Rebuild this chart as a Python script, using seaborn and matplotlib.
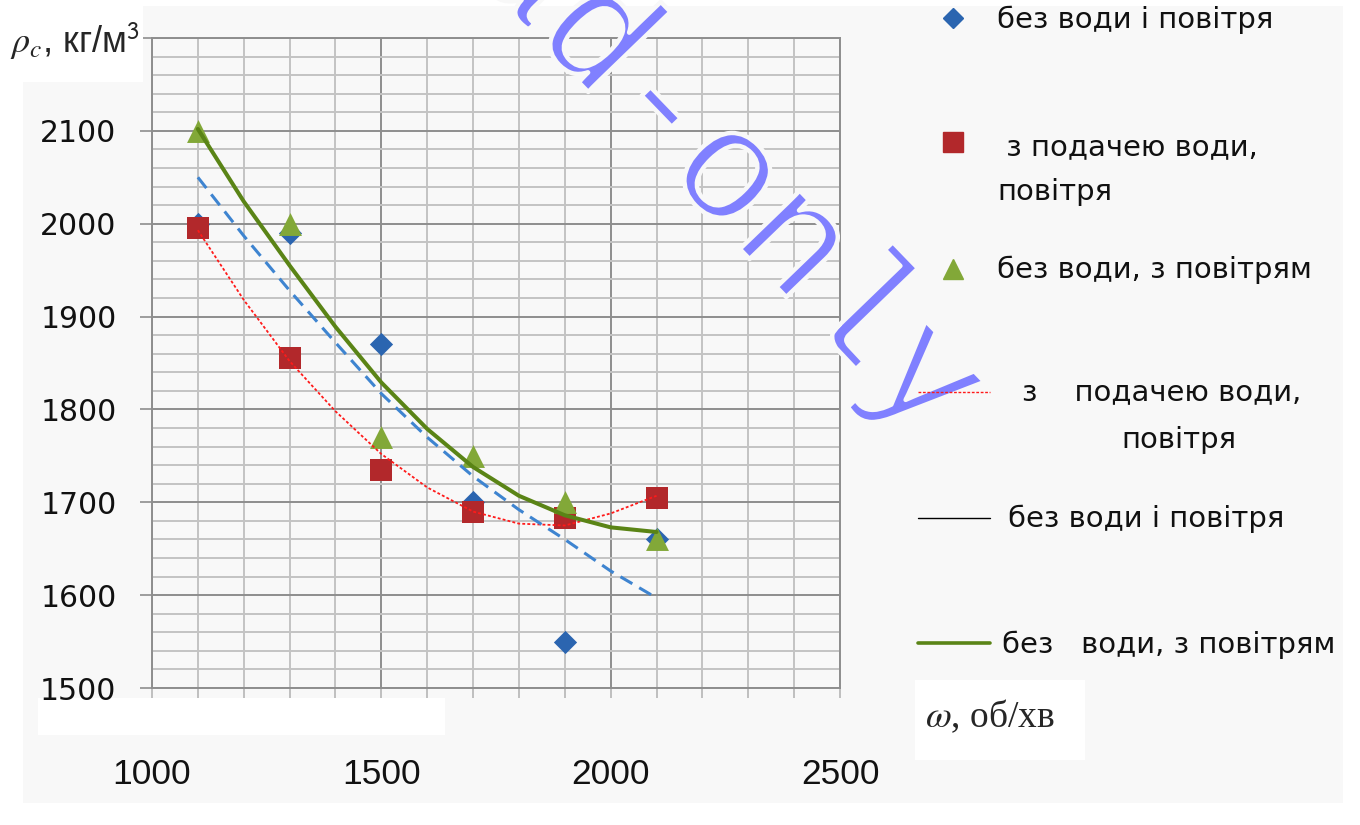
import numpy as np
import pandas as pd
import matplotlib
matplotlib.use("Agg")
import matplotlib.pyplot as plt
import seaborn as sns
from matplotlib.lines import Line2D
from matplotlib.patches import Rectangle
from matplotlib.ticker import MultipleLocator
import matplotlib.patheffects as pe

# ---------------- data ----------------
rpm = [1100, 1300, 1500, 1700, 1900, 2100]
dens_no_water_air = [2000, 1990, 1870, 1700, 1550, 1660]   # без води і повітря
dens_water_air = [1995, 1855, 1735, 1690, 1683, 1705]      # з подачею води, повітря
dens_air_only = [2100, 2000, 1770, 1750, 1700, 1660]       # без води, з повітрям

trend_rpm = [1100, 1200, 1300, 1400, 1500, 1600, 1700, 1800, 1900, 2000, 2100]
trend_no_water_air = [2050, 1987, 1928, 1872, 1817, 1770, 1728, 1692, 1660, 1626, 1597]
trend_water_air = [1993, 1918, 1852, 1798, 1752, 1716, 1690, 1677, 1675, 1688, 1707]
trend_air_only = [2102, 2024, 1955, 1889, 1829, 1779, 1738, 1707, 1686, 1673, 1668]

x_ticks = [1000, 1500, 2000, 2500]
y_ticks = [1500, 1600, 1700, 1800, 1900, 2000, 2100, 2200]
y_tick_labels = ["1500", "1600", "1700", "1800", "1900", "2000", "2100", ""]

lbl_marker_1 = "без води і повітря"
lbl_marker_2a = " з подачею води,"
lbl_marker_2b = "повітря"
lbl_marker_3 = "без води, з повітрям"
lbl_line_1a = "з    подачею води,"
lbl_line_1b = "повітря"
lbl_line_2 = "без води і повітря"
lbl_line_3 = "без   води, з повітрям"
y_title = r"$\rho_c$, кг/м$^{\mathsf{3}}$"
x_title = r"$\omega$, об/хв"
watermark = "Read-only"

# ---------------- style ----------------
W, H = 1360, 825
sns.set_theme(style="white")
plt.rcParams["font.family"] = ["DejaVu Sans"]
BG = "#f8f8f8"

C_DIAMOND = "#2b65b0"
C_SQUARE = "#b2282b"
C_TRI = "#82a838"
C_DASH = "#3e84d0"
C_DOT = "#ff1a1a"
C_GREEN = "#5a8416"


def fx(x):
    return x / W


def fy(y):
    return 1 - y / H


fig = plt.figure(figsize=(W / 100, H / 100), dpi=100, facecolor=BG)
ax = fig.add_axes([152 / W, (H - 688) / H, 688 / W, 650 / H])
ax.set_facecolor(BG)

# markers
sns.scatterplot(x=rpm, y=dens_no_water_air, marker="D", s=140, color=C_DIAMOND,
                linewidth=0, ax=ax, zorder=3)
sns.scatterplot(x=rpm, y=dens_water_air, marker="s", s=250, color=C_SQUARE,
                linewidth=0, ax=ax, zorder=3)
sns.scatterplot(x=rpm, y=dens_air_only, marker="^", s=272, color=C_TRI,
                linewidth=0, ax=ax, zorder=3)

# trend lines
sns.lineplot(x=trend_rpm, y=trend_water_air, color=C_DOT, lw=1.3,
             linestyle=(0, (1.6, 1.2)), ax=ax, zorder=4, sort=False, estimator=None)
sns.lineplot(x=trend_rpm, y=trend_no_water_air, color=C_DASH, lw=2.2,
             linestyle=(0, (4.5, 2.6)), ax=ax, zorder=4, sort=False, estimator=None)
sns.lineplot(x=trend_rpm, y=trend_air_only, color=C_GREEN, lw=2.9,
             ax=ax, zorder=5, sort=False, estimator=None)

ax.set_xlim(1000, 2500)
ax.set_ylim(1500, 2200)
ax.set_xticks(x_ticks)
ax.set_yticks(y_ticks)
ax.set_yticklabels(y_tick_labels)
ax.xaxis.set_minor_locator(MultipleLocator(100))
ax.yaxis.set_minor_locator(MultipleLocator(20))
ax.set_axisbelow(True)
ax.grid(which="major", color="#8e8e8e", lw=1.4)
ax.grid(which="minor", color="#c3c3c3", lw=1.4)
for s in ax.spines.values():
    s.set_color("#8e8e8e")
    s.set_linewidth(1.4)

ax.tick_params(axis="y", which="major", length=8.6, width=1.2, color="#8e8e8e",
               pad=17, labelsize=21.5, labelcolor="#111111", left=True)
ax.tick_params(axis="y", which="minor", length=0)
ax.tick_params(axis="x", which="both", length=7.2, width=1.2, color="#b5b5b5",
               direction="out", bottom=True)
ax.tick_params(axis="x", which="major", pad=43.5, labelsize=25.5, labelcolor="#111111")
for lab in ax.get_xticklabels():
    lab.set_fontfamily("Liberation Sans")
ax.set_xlabel("")
ax.set_ylabel("")


# white patches of the original picture
def white(x0, y0, w, h, z=-1):
    fig.add_artist(Rectangle((fx(x0), fy(y0 + h)), w / W, h / H, transform=fig.transFigure,
                             facecolor="white", edgecolor="none", zorder=z))


white(0, 0, W, 6)
white(0, 0, 23, H)
white(38, 698, 407, 37)
white(0, 803, W, 22)
white(915, 680, 170, 80)
white(0, 0, 143, 82, z=1)
white(1343, 0, 17, H, z=8)

# axis titles
fig.text(fx(10), fy(53), y_title, fontsize=26, family="Liberation Sans",
         math_fontfamily="stix", va="baseline", ha="left", zorder=2)
fig.text(fx(925), fy(727), x_title, fontsize=27, family="Liberation Serif",
         math_fontfamily="stix", va="baseline", ha="left", zorder=2)

# legend (manually laid out like the original)
LF = dict(fontsize=21, family="DejaVu Sans", va="baseline", ha="left", color="#111111", zorder=2)
fig.add_artist(Line2D([fx(953)], [fy(18)], marker="D", ms=10.2, color=C_DIAMOND, lw=0,
                      transform=fig.transFigure))
fig.text(fx(997), fy(28), lbl_marker_1, **LF)
fig.add_artist(Line2D([fx(953)], [fy(142)], marker="s", ms=15, color=C_SQUARE, lw=0,
                      transform=fig.transFigure))
fig.text(fx(997), fy(155), lbl_marker_2a, **LF)
fig.text(fx(997), fy(200), lbl_marker_2b, **LF)
fig.add_artist(Line2D([fx(953)], [fy(269)], marker="^", ms=15, color=C_TRI, lw=0,
                      transform=fig.transFigure))
fig.text(fx(997), fy(278), lbl_marker_3, **LF)

fig.add_artist(Line2D([fx(918), fx(990)], [fy(392), fy(392)], color=C_DOT, lw=1.0,
                      linestyle=(0, (2, 1.2)), transform=fig.transFigure, zorder=7))
fig.text(fx(1022), fy(400), lbl_line_1a, **LF)
fig.text(fx(1179), fy(448), lbl_line_1b, **{**LF, "ha": "center"})
fig.add_artist(Line2D([fx(918), fx(990)], [fy(518), fy(518)], color="black", lw=1.0,
                      transform=fig.transFigure, zorder=2))
fig.text(fx(1008), fy(527), lbl_line_2, **LF)
fig.add_artist(Line2D([fx(918), fx(990)], [fy(643), fy(643)], color=C_GREEN, lw=2.6,
                      transform=fig.transFigure, zorder=2))
fig.text(fx(1002), fy(653), lbl_line_3, **LF)

# watermark (thinned glyphs)
fig.text(fx(660), fy(108), watermark, rotation=-46, rotation_mode="anchor",
         ha="center", va="center", fontsize=114, family="Liberation Mono",
         color="#8080ff", zorder=5,
         path_effects=[pe.Normal(), pe.Stroke(linewidth=3.2, foreground=BG)])

fig.savefig("out.png", dpi=100, facecolor=BG)
